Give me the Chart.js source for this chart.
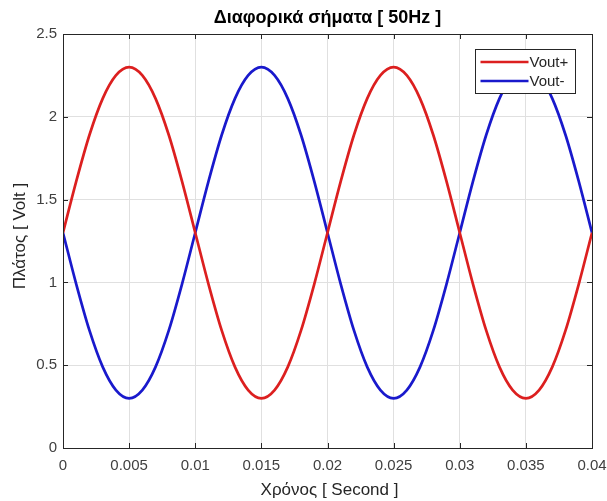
<!DOCTYPE html>
<html>
<head>
<meta charset="utf-8">
<script src="https://cdn.jsdelivr.net/npm/chart.js@4"></script>
<style>
html, body { margin: 0; padding: 0; background: #fff; }
#wrap { width: 607px; height: 501px; }
</style>
</head>
<body>
<div id="wrap"><canvas id="signals"></canvas></div>
<script>
// χρόνος [s] και τιμές των δύο σημάτων (διαβασμένες από το γράφημα)
var times = [0, 0.001, 0.002, 0.003, 0.004, 0.005, 0.006, 0.007, 0.008, 0.009,
             0.010, 0.011, 0.012, 0.013, 0.014, 0.015, 0.016, 0.017, 0.018, 0.019,
             0.020, 0.021, 0.022, 0.023, 0.024, 0.025, 0.026, 0.027, 0.028, 0.029,
             0.030, 0.031, 0.032, 0.033, 0.034, 0.035, 0.036, 0.037, 0.038, 0.039, 0.040];
var voutPlus = [1.30, 1.61, 1.89, 2.11, 2.25, 2.30, 2.25, 2.11, 1.89, 1.61,
                1.30, 0.99, 0.71, 0.49, 0.35, 0.30, 0.35, 0.49, 0.71, 0.99,
                1.30, 1.61, 1.89, 2.11, 2.25, 2.30, 2.25, 2.11, 1.89, 1.61,
                1.30, 0.99, 0.71, 0.49, 0.35, 0.30, 0.35, 0.49, 0.71, 0.99, 1.30];
var voutMinus = [1.30, 0.99, 0.71, 0.49, 0.35, 0.30, 0.35, 0.49, 0.71, 0.99,
                 1.30, 1.61, 1.89, 2.11, 2.25, 2.30, 2.25, 2.11, 1.89, 1.61,
                 1.30, 0.99, 0.71, 0.49, 0.35, 0.30, 0.35, 0.49, 0.71, 0.99,
                 1.30, 1.61, 1.89, 2.11, 2.25, 2.30, 2.25, 2.11, 1.89, 1.61, 1.30];
var seriesNames = ["Vout+", "Vout-"];
var xTicks = [0, 0.005, 0.01, 0.015, 0.02, 0.025, 0.03, 0.035, 0.04];
var yTicks = [0, 0.5, 1, 1.5, 2, 2.5];

var titleText = "Διαφορικά σήματα [ 50Hz ]";
var xLabel = "Χρόνος [ Second ]";
var yLabel = "Πλάτος [ Volt ]";

var axisColor = "#262626";
var fontName = "'Liberation Sans', Arial, sans-serif";

function toPoints(ys) {
    return times.map(function (t, i) { return { x: t, y: ys[i] }; });
}

// πλαίσιο, εσωτερικά ticks, τίτλοι και υπόμνημα σε στυλ MATLAB
var matlabLook = {
    id: 'matlabLook',
    afterDraw: function (chart) {
        var ctx = chart.ctx;
        var a = chart.chartArea;
        var sx = chart.scales.x, sy = chart.scales.y;
        ctx.save();
        ctx.strokeStyle = axisColor;
        ctx.lineWidth = 1;
        ctx.beginPath();
        xTicks.forEach(function (v) {
            var px = Math.round(sx.getPixelForValue(v)) + 0.5;
            ctx.moveTo(px, a.bottom); ctx.lineTo(px, a.bottom - 5);
            ctx.moveTo(px, a.top); ctx.lineTo(px, a.top + 5);
        });
        yTicks.forEach(function (v) {
            var py = Math.round(sy.getPixelForValue(v)) + 0.5;
            ctx.moveTo(a.left, py); ctx.lineTo(a.left + 5, py);
            ctx.moveTo(a.right, py); ctx.lineTo(a.right - 5, py);
        });
        ctx.stroke();
        ctx.strokeRect(Math.round(a.left) + 0.5, Math.round(a.top) + 0.5,
                       Math.round(a.right - a.left), Math.round(a.bottom - a.top));

        // υπόμνημα
        var lw = 100, lh = 44;
        var lx = Math.round(a.right - 17 - lw) + 0.5, ly = Math.round(a.top + 15) + 0.5;
        ctx.fillStyle = "#fff";
        ctx.fillRect(lx, ly, lw, lh);
        ctx.strokeRect(lx, ly, lw, lh);
        ctx.font = "15px " + fontName;
        ctx.textBaseline = "middle";
        ctx.textAlign = "left";
        chart.data.datasets.forEach(function (ds, i) {
            var yy = ly + 12.5 + i * 19;
            ctx.strokeStyle = ds.borderColor;
            ctx.lineWidth = 2.5;
            ctx.beginPath();
            ctx.moveTo(lx + 5, yy); ctx.lineTo(lx + 53, yy);
            ctx.stroke();
            ctx.fillStyle = axisColor;
            ctx.fillText(ds.label, lx + 54, yy + 1);
        });

        // τίτλος και ετικέτες αξόνων
        var cx = (a.left + a.right) / 2;
        ctx.fillStyle = "#000";
        ctx.textAlign = "center";
        ctx.font = "bold 18px " + fontName;
        ctx.fillText(titleText, cx, 18);
        ctx.fillStyle = axisColor;
        ctx.font = "17px " + fontName;
        ctx.fillText(xLabel, cx + 2, 490);
        ctx.translate(20, 236);
        ctx.rotate(-Math.PI / 2);
        ctx.fillText(yLabel, 0, 0);
        ctx.restore();
    }
};

var signalsChart = new Chart(document.getElementById("signals"), {
    type: 'line',
    data: {
        datasets: [{
            label: seriesNames[0],
            data: toPoints(voutPlus),
            borderColor: "#dc1f1f",
            borderWidth: 2.7,
            pointRadius: 0,
            cubicInterpolationMode: 'monotone'
        }, {
            label: seriesNames[1],
            data: toPoints(voutMinus),
            borderColor: "#1919cc",
            borderWidth: 2.7,
            pointRadius: 0,
            cubicInterpolationMode: 'monotone'
        }]
    },
    options: {
        responsive: true,
        maintainAspectRatio: false,
        animation: false,
        layout: { padding: { top: 34, right: 15, left: 0, bottom: 0 } },
        scales: {
            x: {
                type: 'linear',
                min: 0,
                max: 0.04,
                afterBuildTicks: function (s) { s.ticks = xTicks.map(function (v) { return { value: v }; }); },
                afterFit: function (s) { s.height = 53; s.paddingLeft = 0; s.paddingRight = 0; },
                grid: { color: "#e0e0e0", drawTicks: false },
                border: { display: false },
                ticks: {
                    padding: 9,
                    color: "#404040",
                    font: { family: fontName, size: 15 },
                    maxRotation: 0,
                    callback: function (v) { return String(v); }
                }
            },
            y: {
                min: 0,
                max: 2.5,
                afterBuildTicks: function (s) { s.ticks = yTicks.map(function (v) { return { value: v }; }); },
                afterFit: function (s) { s.width = 63; s.paddingTop = 0; s.paddingBottom = 0; },
                grid: { color: "#e0e0e0", drawTicks: false },
                border: { display: false },
                ticks: {
                    padding: 6,
                    color: "#404040",
                    font: { family: fontName, size: 15 },
                    callback: function (v) { return String(v); }
                }
            }
        },
        plugins: {
            legend: false,
            title: { display: false },
            tooltip: { enabled: false }
        }
    },
    plugins: [matlabLook]
});
</script>
</body>
</html>
